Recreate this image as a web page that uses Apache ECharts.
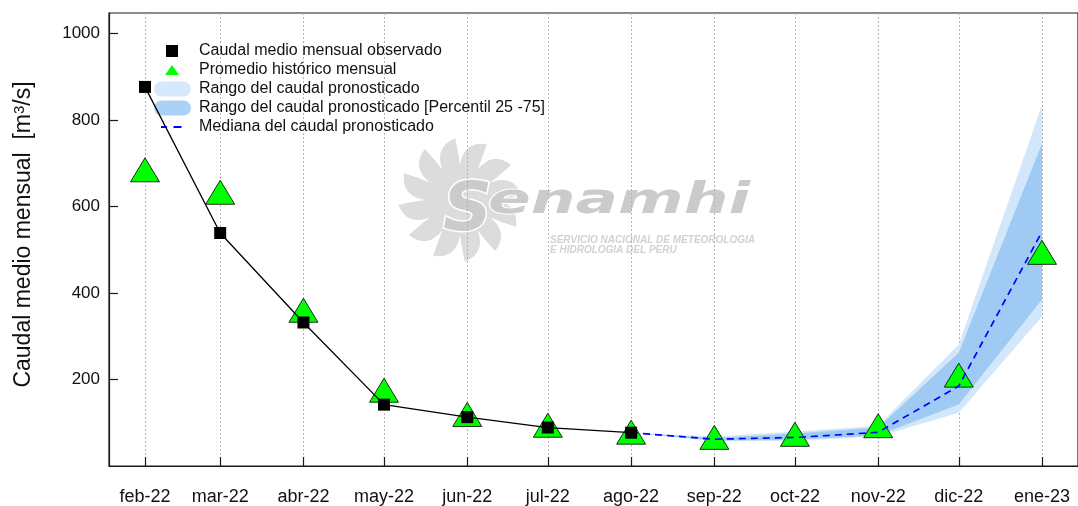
<!DOCTYPE html>
<html>
<head>
<meta charset="utf-8">
<script src="https://cdn.jsdelivr.net/npm/echarts@6/dist/echarts.min.js"></script>
<style>
  html, body { margin: 0; padding: 0; background: #ffffff; }
  #chart { width: 1078px; height: 506px; }
</style>
</head>
<body>
<div id="chart"></div>
<script>
// Months shown on the x axis (first day of each month) and their labels
const monthDates = ['2022-02-01', '2022-03-01', '2022-04-01', '2022-05-01', '2022-06-01', '2022-07-01',
                    '2022-08-01', '2022-09-01', '2022-10-01', '2022-11-01', '2022-12-01', '2023-01-01'];
const monthLabels = ['feb-22', 'mar-22', 'abr-22', 'may-22', 'jun-22', 'jul-22',
                     'ago-22', 'sep-22', 'oct-22', 'nov-22', 'dic-22', 'ene-23'];
const yTicks = [200, 400, 600, 800, 1000];

// Observed monthly mean discharge, feb-22 .. ago-22 (m3/s)
const observedFlow = [877, 539, 332, 142, 113, 89, 77];
// Long-term monthly mean, feb .. ene (m3/s)
const historicMean = [676, 624, 351, 166, 110, 85, 69, 57, 64, 84, 201, 485];

// Forecast, ago-22 .. ene-23 (m3/s)
const forecastDates = ['2022-08-01', '2022-09-01', '2022-10-01', '2022-11-01', '2022-12-01', '2023-01-01'];
const forecastMedian = [77, 62, 66, 78, 185, 542];
const forecastMin = [77, 57, 58, 68, 123, 346];
const forecastMax = [77, 68, 80, 93, 281, 835];
const forecastP25 = [77, 59, 61, 71, 142, 385];
const forecastP75 = [77, 65, 75, 89, 262, 746];

// x positions are days counted from the first month
const DAY = 86400000;
const T0 = Date.parse(monthDates[0] + 'T00:00:00Z');
const dayOf = d => Math.round((Date.parse(d + 'T00:00:00Z') - T0) / DAY);
const monthDays = monthDates.map(dayOf);
const labelByDay = {};
monthDays.forEach((v, i) => { labelByDay[v] = monthLabels[i]; });

const FONT = "'Liberation Sans', Arial, sans-serif";
const COLORS = {
  observed: '#000000',
  historic: '#00ff00',
  rangeLight: '#d3e7fb',
  rangeDark: '#9ecaf4',
  median: '#0000ff'
};

// Filled band between two forecast bounds, drawn as one polygon
function bandSeries(name, low, high, color, z) {
  return {
    type: 'custom',
    name: name,
    z: z,
    silent: true,
    data: forecastDates.map((d, i) => [dayOf(d), low[i], high[i]]),
    encode: { x: 0, y: [1, 2] },
    renderItem: function (params, api) {
      if (params.dataIndex !== 0) return null;
      const n = forecastDates.length;
      const upper = [], lower = [];
      for (let j = 0; j < n; j++) {
        upper.push(api.coord([api.value(0, j), api.value(2, j)]));
        lower.push(api.coord([api.value(0, j), api.value(1, j)]));
      }
      return {
        type: 'polygon',
        shape: { points: upper.concat(lower.reverse()) },
        style: { fill: color, stroke: null }
      };
    }
  };
}

// Sun emblem of the watermark: flame-shaped rays as one outline
function sunOutline(cx, cy, rIn, rOut, rays) {
  const pts = [];
  const quad = (p0, c, p1) => {
    for (let s = 0; s < 8; s++) {
      const t = s / 8, u = 1 - t;
      pts.push([u * u * p0[0] + 2 * u * t * c[0] + t * t * p1[0], u * u * p0[1] + 2 * u * t * c[1] + t * t * p1[1]]);
    }
  };
  const at = (r, a) => [cx + r * Math.cos(a), cy + r * Math.sin(a)];
  for (let k = 0; k < rays; k++) {
    const a0 = (k / rays) * Math.PI * 2;
    const a1 = ((k + 1) / rays) * Math.PI * 2;
    const tip = at(rOut, a0 + 0.85 * (a1 - a0));
    quad(at(rIn, a0), at(rOut * 0.95, a0 + 0.05), tip);
    quad(tip, at(rOut * 0.7, a1 - 0.02), at(rIn, a1));
  }
  return pts;
}

const chart = echarts.init(document.getElementById('chart'), null, { renderer: 'canvas' });

const option = {
  animation: false,
  backgroundColor: '#ffffff',
  textStyle: { fontFamily: FONT },
  grid: {
    left: 109, top: 13, right: -6, bottom: 39,
    show: true, borderColor: '#1a1a1a', borderWidth: 1.2, backgroundColor: 'transparent'
  },
  graphic: {
    elements: [
      { type: 'polygon', z: -10, silent: true, shape: { points: sunOutline(460, 200, 34, 62, 12) },
        style: { fill: '#dcdcdc' } },
      { type: 'circle', z: -10, silent: true, shape: { cx: 460, cy: 200, r: 36 }, style: { fill: '#dcdcdc' } },
      { type: 'text', z: -9, silent: true, x: 443, y: 178,
        style: { text: 'S', font: 'italic 900 68px "DejaVu Sans"', fill: '#cbcbcb', stroke: '#ffffff', lineWidth: 3 } },
      { type: 'text', z: -9, silent: true, x: 488, y: 181, scaleX: 1.5,
        style: { text: 'enamhi', font: 'italic bold 42px "DejaVu Sans"', fill: '#cbcbcb', stroke: '#ffffff', lineWidth: 2 } },
      { type: 'text', z: -9, silent: true, x: 550, y: 235,
        style: { text: 'SERVICIO NACIONAL DE METEOROLOGIA', font: 'italic bold 10px "Liberation Sans"', fill: '#d2d2d2' } },
      { type: 'text', z: -9, silent: true, x: 550, y: 245,
        style: { text: 'E HIDROLOGIA DEL PERU', font: 'italic bold 10px "Liberation Sans"', fill: '#d2d2d2' } }
    ]
  },
  legend: {
    orient: 'vertical',
    left: 154,
    top: 43,
    padding: 0,
    itemWidth: 40,
    itemHeight: 15,
    itemGap: 3,
    selectedMode: false,
    textStyle: { fontFamily: FONT, fontSize: 16, color: '#111111' },
    data: [
      { name: 'Caudal medio mensual observado',
        icon: 'path://M0,0M40,15M12,1.5h12v12h-12z',
        itemStyle: { color: COLORS.observed, borderWidth: 0 } },
      { name: 'Promedio histórico mensual',
        icon: 'path://M0,0M40,15M18,2.5L25,12.5L11,12.5Z',
        itemStyle: { color: COLORS.historic, borderWidth: 0 } },
      { name: 'Rango del caudal pronosticado',
        icon: 'path://M0,0M40,15M7.5,0H29.5A7.5,7.5,0,0,1,29.5,15H7.5A7.5,7.5,0,0,1,7.5,0Z',
        itemStyle: { color: '#d6e9fc', borderWidth: 0 } },
      { name: 'Rango del caudal pronosticado [Percentil 25 -75]',
        icon: 'path://M0,0M40,15M7.5,0H29.5A7.5,7.5,0,0,1,29.5,15H7.5A7.5,7.5,0,0,1,7.5,0Z',
        itemStyle: { color: '#aad2f8', borderWidth: 0 } },
      { name: 'Mediana del caudal pronosticado',
        icon: 'path://M0,0M40,15M7,6.5h6v2h-6zM19.5,6.5h8v2h-8z',
        itemStyle: { color: COLORS.median, borderWidth: 0 } }
    ]
  },
  xAxis: {
    type: 'value',
    min: monthDays[0] - 13.4,
    max: monthDays[monthDays.length - 1] + 13.4,
    axisLine: { show: true, onZero: false, lineStyle: { color: '#1a1a1a', width: 1.2 } },
    axisTick: { show: true, inside: true, length: 9, customValues: monthDays,
                lineStyle: { color: '#1a1a1a', width: 1.2 } },
    axisLabel: {
      customValues: monthDays,
      margin: 22,
      fontSize: 18,
      color: '#111111',
      fontFamily: FONT,
      formatter: function (value) { return labelByDay[Math.round(value)] || ''; }
    },
    splitLine: { show: true, lineStyle: { color: '#b4b4b4', type: [2, 2], width: 1 } }
  },
  yAxis: {
    type: 'value',
    min: 0,
    max: 1048,
    name: 'Caudal medio mensual  [m{sup|3}/s]',
    nameLocation: 'middle',
    nameGap: 74,
    nameTextStyle: {
      fontFamily: FONT, fontSize: 23, color: '#111111', padding: [0, 0, 0, 10],
      rich: { sup: { fontFamily: FONT, fontSize: 15, verticalAlign: 'top', color: '#111111' } }
    },
    axisLine: { show: true, onZero: false, lineStyle: { color: '#1a1a1a', width: 1.2 } },
    axisTick: { show: true, inside: true, length: 9, customValues: yTicks,
                lineStyle: { color: '#1a1a1a', width: 1.2 } },
    axisLabel: { customValues: yTicks, margin: 9, fontSize: 17, color: '#111111', fontFamily: FONT,
                 formatter: function (value) { return String(value); } },
    splitLine: { show: false }
  },
  series: [
    bandSeries('Rango del caudal pronosticado', forecastMin, forecastMax, COLORS.rangeLight, 1),
    bandSeries('Rango del caudal pronosticado [Percentil 25 -75]', forecastP25, forecastP75, COLORS.rangeDark, 2),
    {
      type: 'scatter',
      name: 'Promedio histórico mensual',
      z: 3,
      symbol: 'triangle',
      symbolSize: [29, 24],
      symbolOffset: [0, -4],
      itemStyle: { color: COLORS.historic, borderColor: '#000000', borderWidth: 0.8, opacity: 1 },
      data: monthDays.map((x, i) => [x, historicMean[i]])
    },
    {
      type: 'line',
      name: 'Mediana del caudal pronosticado',
      z: 4,
      symbol: 'none',
      lineStyle: { color: COLORS.median, width: 1.7, type: [7, 5] },
      itemStyle: { color: COLORS.median },
      data: forecastDates.map((d, i) => [dayOf(d), forecastMedian[i]])
    },
    {
      type: 'line',
      name: 'Caudal medio mensual observado',
      z: 5,
      symbol: 'rect',
      symbolSize: 12,
      showAllSymbol: true,
      lineStyle: { color: COLORS.observed, width: 1.3 },
      itemStyle: { color: COLORS.observed, borderWidth: 0 },
      data: observedFlow.map((v, i) => [monthDays[i], v])
    }
  ]
};

chart.setOption(option);
</script>
</body>
</html>
